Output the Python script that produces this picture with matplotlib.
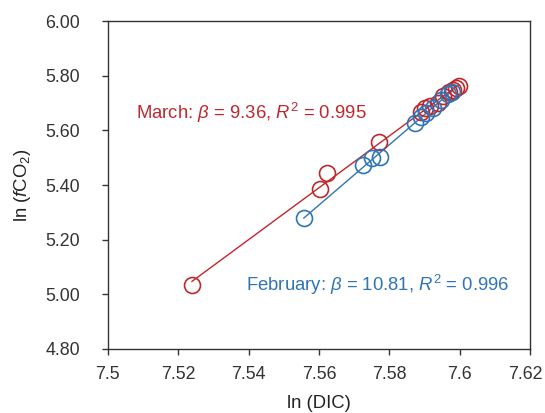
import matplotlib
matplotlib.use("Agg")
import matplotlib.pyplot as plt
from matplotlib.transforms import ScaledTranslation
import numpy as np

plt.rcParams['font.family'] = ['Liberation Sans', 'DejaVu Sans']
plt.rcParams['mathtext.fontset'] = 'custom'
plt.rcParams['mathtext.rm'] = 'Liberation Sans'
plt.rcParams['mathtext.it'] = 'Liberation Sans:italic'
plt.rcParams['mathtext.bf'] = 'Liberation Sans:bold'

# Data
march_x = [7.5239, 7.5603, 7.5623, 7.5771, 7.5890, 7.5902, 7.5917, 7.5937,
           7.5954, 7.5970, 7.5980, 7.5990, 7.5997]
march_y = [5.034, 5.385, 5.444, 5.557, 5.667, 5.682, 5.689, 5.700,
           5.726, 5.740, 5.748, 5.755, 5.762]
feb_x = [7.5557, 7.5726, 7.5751, 7.5774, 7.5874, 7.5889, 7.5903, 7.5923,
         7.5946, 7.5966, 7.5978]
feb_y = [5.279, 5.473, 5.499, 5.502, 5.627, 5.649, 5.663, 5.682,
         5.711, 5.733, 5.740]

march_label = r"March: $\beta$ = 9.36, $R^2$ = 0.995"
feb_label = r"February: $\beta$ = 10.81, $R^2$ = 0.996"

red = '#C0272D'
blue = '#2E75B6'
fs = 13.3
tfs = 12.8

fig = plt.figure(figsize=(5.45, 4.13), dpi=100)
ax = fig.add_axes([0.198, 0.155, 0.7745, 0.794])

for xs, ys, c in [(march_x, march_y, red), (feb_x, feb_y, blue)]:
    xs = np.array(xs); ys = np.array(ys)
    k, b = np.polyfit(xs, ys, 1)
    xl = np.array([xs.min(), xs.max()])
    ax.plot(xl, k * xl + b, color=c, lw=1.0, zorder=2)
    ax.plot(xs, ys, 'o', mfc='none', mec=c, mew=1.2, ms=11.5, zorder=3)

ax.text(7.5080, 5.662, march_label, color=red, fontsize=fs, va='center', ha='left')
ax.text(7.5392, 5.035, feb_label, color=blue, fontsize=fs, va='center', ha='left')

ax.set_xlim(7.5, 7.62)
ax.set_ylim(4.8, 6.0)
ax.set_xticks([7.5, 7.52, 7.54, 7.56, 7.58, 7.6, 7.62])
ax.set_xticklabels(['7.5', '7.52', '7.54', '7.56', '7.58', '7.6', '7.62'])
ax.set_yticks([4.8, 5.0, 5.2, 5.4, 5.6, 5.8, 6.0])
ax.set_yticklabels(['4.80', '5.00', '5.20', '5.40', '5.60', '5.80', '6.00'])
ax.tick_params(direction='out', length=4, width=1, labelsize=tfs, colors='#333333')
ax.tick_params(axis='y', pad=16)
ax.tick_params(axis='x', pad=8)
for s in ax.spines.values():
    s.set_color('#333333')
    s.set_linewidth(1.0)

# keep last x tick label inside the figure
last = ax.get_xticklabels()[-1]
last.set_transform(last.get_transform() + ScaledTranslation(-0.045, 0, fig.dpi_scale_trans))

ax.set_xlabel('ln (DIC)', fontsize=fs, labelpad=9, color='#222222')
ax.set_ylabel(r'ln ($\it{f}$CO$_2$)', fontsize=fs, labelpad=9, color='#222222')

fig.savefig('out.png', dpi=100)
